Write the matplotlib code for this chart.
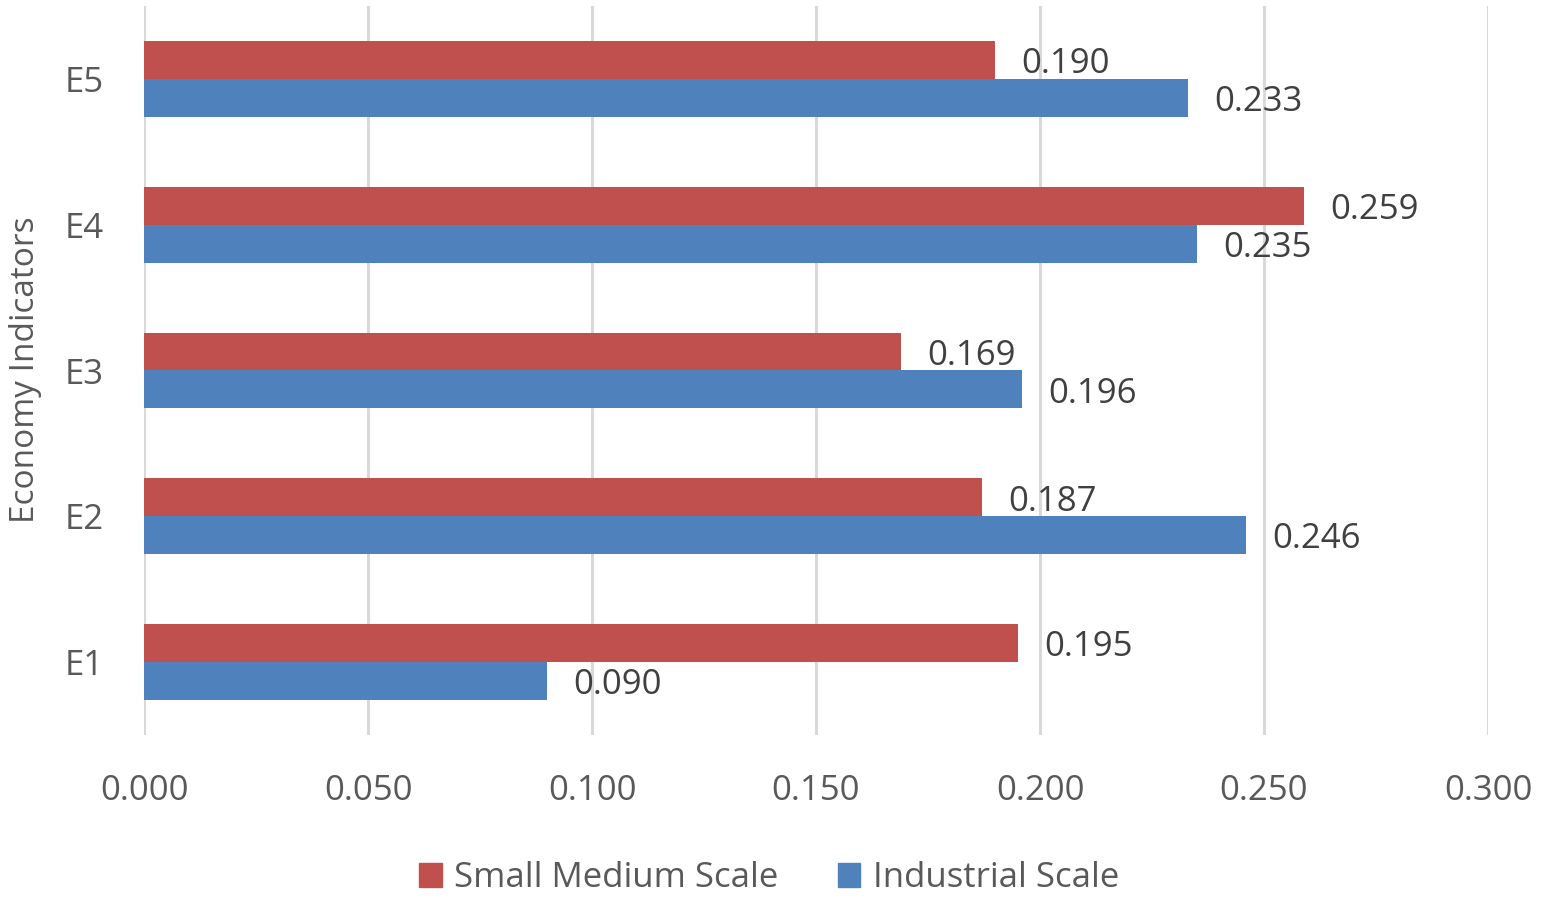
import matplotlib
matplotlib.use("Agg")
import matplotlib.pyplot as plt
import numpy as np
from matplotlib.patches import Patch

categories = ["E1", "E2", "E3", "E4", "E5"]
small_medium = [0.195, 0.187, 0.169, 0.259, 0.190]
industrial = [0.090, 0.246, 0.196, 0.235, 0.233]
xticks = [0.000, 0.050, 0.100, 0.150, 0.200, 0.250, 0.300]
series_names = ["Small Medium Scale", "Industrial Scale"]

RED = "#C0504D"
BLUE = "#4F81BD"
TICK = "#595959"
LABEL = "#404040"

plt.rcParams['font.family'] = ['Open Sans', 'DejaVu Sans']

fig = plt.figure(figsize=(15.41, 8.99), dpi=100)
ax = fig.add_axes([144/1541, 1-735/899, (1488-144)/1541, (735-6)/899])

y = np.arange(len(categories))
h = 0.26
b1 = ax.barh(y + h/2, small_medium, height=h, color=RED, zorder=3)
b2 = ax.barh(y - h/2, industrial, height=h, color=BLUE, zorder=3)

for bars in (b1, b2):
    for r in bars:
        w = r.get_width()
        ax.annotate(f"{w:.3f}", (w, r.get_y() + r.get_height()/2),
                    xytext=(19, -3), textcoords="offset points",
                    ha="left", va="center", fontsize=25, color=LABEL)

ax.set_xlim(0, 0.300)
ax.set_ylim(-0.5, len(categories) - 0.5)
ax.set_xticks(xticks)
ax.set_xticklabels([f"{t:.3f}" for t in xticks])
ax.set_yticks(y)
ax.set_yticklabels(categories)
ax.tick_params(axis='x', length=0, pad=28, labelsize=25, labelcolor=TICK)
ax.tick_params(axis='y', length=0, pad=29, labelsize=25, labelcolor=TICK)
ax.grid(axis='x', color="#D9D9D9", linewidth=2.2, zorder=0)
ax.grid(axis='y', visible=False)
for s in ax.spines.values():
    s.set_visible(False)

fig.text(26/1541, 1-370/899, "Economy Indicators", rotation=90, ha="center", va="center",
         fontsize=24, color=TICK)

handles = [Patch(color=RED), Patch(color=BLUE)]
fig.legend(handles, series_names, loc="center", bbox_to_anchor=(769/1541, 1-878/899),
           ncol=2, frameon=False, fontsize=25, labelcolor=TICK,
           handlelength=0.66, handleheight=0.66, handletextpad=0.35, columnspacing=1.7)

fig.savefig("out.png", dpi=100)
